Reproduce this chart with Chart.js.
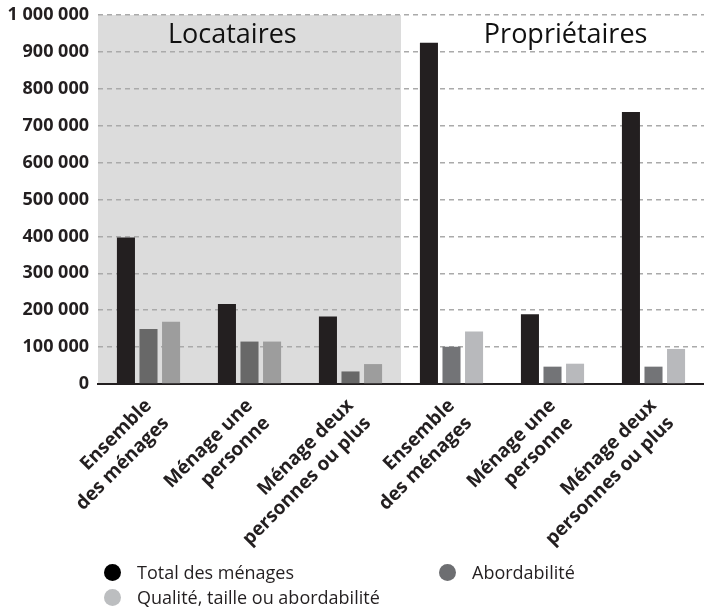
<!DOCTYPE html>
<html>
<head>
<meta charset="utf-8">
<script src="https://cdn.jsdelivr.net/npm/chart.js@4/dist/chart.umd.min.js"></script>
<style>
  html, body { margin: 0; padding: 0; background: #fff; }
  #wrap { position: relative; width: 704px; height: 613px; }
  #legend { position: absolute; left: 0; top: 0; width: 704px; height: 613px; pointer-events: none;
    font-family: "Open Sans", sans-serif; font-size: 18px; color: #231f20; }
  .item { position: absolute; display: flex; align-items: center; white-space: nowrap; }
  .dot { width: 17px; height: 17px; border-radius: 50%; margin-right: 16px; }
</style>
</head>
<body>
<div id="wrap">
  <canvas id="chart" width="704" height="613"></canvas>
  <div id="legend"></div>
</div>
<script>
// categories (two groups of three)
const categories = [
  ['Ensemble', 'des ménages'],
  ['Ménage une', 'personne'],
  ['Ménage deux', 'personnes ou plus'],
  ['Ensemble', 'des ménages'],
  ['Ménage une', 'personne'],
  ['Ménage deux', 'personnes ou plus']
];
const groupTitles = ['Locataires', 'Propriétaires'];

// series values
const totalMenages = [397000, 217000, 183000, 925000, 189000, 737000];
const abordabilite = [149000, 115000, 34000, 101000, 47000, 47000];
const qualiteTaille = [169000, 115000, 54000, 142000, 55000, 95000];

const seriesNames = ['Total des ménages', 'Abordabilité', 'Qualité, taille ou abordabilité'];

// y ticks
const yMin = 0;
const yMax = 1000000;
const yStep = 100000;

// colours: first three categories sit on the grey "Locataires" panel
const colTotal = ['#231f20', '#231f20', '#231f20', '#231f20', '#231f20', '#231f20'];
const colAbord = ['#686868', '#686868', '#686868', '#737477', '#737477', '#737477'];
const colQual  = ['#9d9d9d', '#9d9d9d', '#9d9d9d', '#b8b9bc', '#b8b9bc', '#b8b9bc'];
const legendCols = ['#000000', '#6d6e71', '#bcbec0'];

function fmt(v) {
  return String(v).replace(/\B(?=(\d{3})+(?!\d))/g, ' ');
}

const panelPlugin = {
  id: 'panels',
  beforeDraw(chart) {
    const { ctx, chartArea } = chart;
    const x = chart.scales.x;
    const split = (x.getPixelForValue(2) + x.getPixelForValue(3)) / 2;
    ctx.save();
    ctx.fillStyle = '#dcdcdc';
    ctx.fillRect(chartArea.left, chartArea.top, split - chartArea.left, chartArea.bottom - chartArea.top);
    ctx.restore();
  },
  afterDatasetsDraw(chart) {
    const { ctx } = chart;
    const x = chart.scales.x;
    const y = chart.scales.y;
    ctx.save();
    ctx.font = '27px "Open Sans", sans-serif';
    ctx.fillStyle = '#111';
    ctx.textAlign = 'center';
    ctx.textBaseline = 'middle';
    const ty = y.getPixelForValue(945000);
    ctx.fillText(groupTitles[0], x.getPixelForValue(0.83), ty);
    ctx.fillText(groupTitles[1], x.getPixelForValue(4.13), ty);
    ctx.restore();
  }
};

const ctx = document.getElementById('chart').getContext('2d');
new Chart(ctx, {
  type: 'bar',
  data: {
    labels: categories,
    datasets: [
      { label: seriesNames[0], data: totalMenages, backgroundColor: colTotal },
      { label: seriesNames[1], data: abordabilite, backgroundColor: colAbord },
      { label: seriesNames[2], data: qualiteTaille, backgroundColor: colQual }
    ]
  },
  options: {
    responsive: false,
    animation: false,
    layout: { padding: { top: 15, left: 0, right: 0, bottom: 0 } },
    datasets: { bar: { categoryPercentage: 0.67, barPercentage: 0.8 } },
    plugins: { legend: { display: false }, tooltip: { enabled: false } },
    scales: {
      x: {
        grid: { display: false },
        border: { display: true, color: '#231f20', width: 2 },
        ticks: {
          autoSkip: false,
          minRotation: 45,
          maxRotation: 45,
          padding: 2,
          color: '#231f20',
          font: { family: '"Open Sans", sans-serif', size: 19, weight: 'bold', lineHeight: 1.3 }
        },
        afterFit(scale) { scale.height = 229; }
      },
      y: {
        min: yMin,
        max: yMax,
        grid: { color: '#aaaaaa', lineWidth: 1.5, drawTicks: false },
        border: { display: false, dash: [5, 4] },
        ticks: {
          stepSize: yStep,
          padding: 9,
          color: '#231f20',
          font: { family: '"Open Sans", sans-serif', size: 18, weight: 'bold' },
          callback: v => fmt(v)
        },
        afterFit(scale) {
          scale.width = 98;
          scale.paddingTop = 0;
          scale.paddingBottom = 0;
        }
      }
    }
  },
  plugins: [panelPlugin]
});

// legend in two columns
const legendPos = [[104, 573], [439, 573], [104, 598]];
const legend = document.getElementById('legend');
seriesNames.forEach((name, i) => {
  const el = document.createElement('div');
  el.className = 'item';
  el.style.left = legendPos[i][0] + 'px';
  el.style.top = (legendPos[i][1] - 13) + 'px';
  el.innerHTML = '<span class="dot" style="background:' + legendCols[i] + '"></span><span>' + name + '</span>';
  legend.appendChild(el);
});
</script>
</body>
</html>
